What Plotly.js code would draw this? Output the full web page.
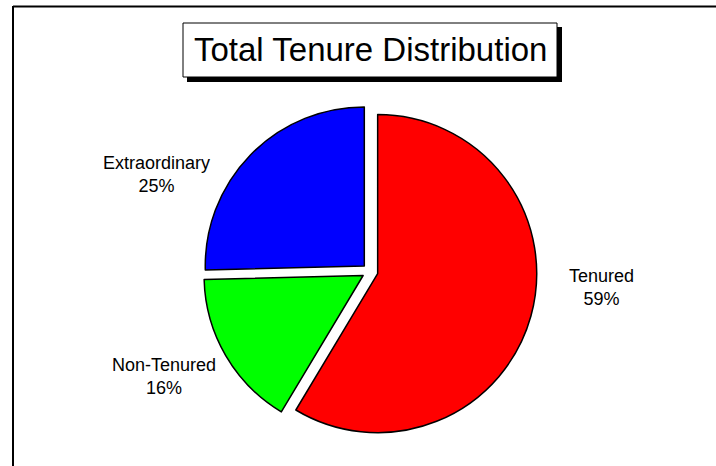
<!DOCTYPE html>
<html>
<head>
<meta charset="utf-8">
<script src="https://cdn.plot.ly/plotly-3.0.1.min.js"></script>
<style>html,body{margin:0;padding:0;background:#fff;}#chart{width:716px;height:466px;}</style>
</head>
<body>
<div id="chart"></div>
<script>
// ---- data ----
var categories = ["Tenured", "Non-Tenured", "Extraordinary"];
var values = [58.6, 16.0, 25.4];
var colors = ["#FF0000", "#00FF00", "#0000FF"];
var chartTitle = "Total Tenure Distribution";

// ---- layout helpers (pixel -> paper) ----
var W = 716, H = 466;
function px(x) { return x / W; }
function py(y) { return 1 - y / H; }

var total = values.reduce(function (a, b) { return a + b; }, 0);
var labelAnchors = [[601, 287], [164, 376], [156, 174]]; // label block centres (px)

var annotations = categories.map(function (c, i) {
  return {
    xref: "paper", yref: "paper",
    x: px(labelAnchors[i][0]), y: py(labelAnchors[i][1]),
    xanchor: "center", yanchor: "middle",
    text: c + "<br>" + Math.round(values[i] / total * 100) + "%",
    showarrow: false,
    align: "center",
    font: {family: "Liberation Sans, Arial, sans-serif", size: 18, color: "#000"}
  };
});
annotations.push({
  xref: "paper", yref: "paper",
  x: px(370), y: py(50), xanchor: "center", yanchor: "middle",
  text: chartTitle, showarrow: false,
  font: {family: "Liberation Sans, Arial, sans-serif", size: 33, color: "#000"}
});

var shapes = [
  // frame (top and left)
  {type: "line", xref: "paper", yref: "paper", x0: px(13), x1: 1, y0: py(6.5), y1: py(6.5), line: {color: "#000", width: 2}},
  {type: "line", xref: "paper", yref: "paper", x0: px(13), x1: px(13), y0: py(6), y1: 0, line: {color: "#000", width: 2}},
  // title box shadow and box
  {type: "rect", xref: "paper", yref: "paper", x0: px(187), x1: px(562), y0: py(27), y1: py(82), fillcolor: "#000", line: {width: 0}},
  {type: "rect", xref: "paper", yref: "paper", x0: px(183), x1: px(557), y0: py(23), y1: py(77), fillcolor: "#fff", line: {color: "#000", width: 1}}
];

var trace = {
  type: "pie",
  labels: categories,
  values: values,
  sort: false,
  direction: "clockwise",
  rotation: 0,
  pull: [0.05, 0.05, 0.05],
  textinfo: "none",
  hoverinfo: "label+percent",
  marker: {colors: colors, line: {color: "#000", width: 1.5}},
  domain: {x: [px(170), px(570)], y: [py(438.5), py(104.5)]},
  showlegend: false
};

var layout = {
  width: W, height: H,
  margin: {l: 0, r: 0, t: 0, b: 0},
  paper_bgcolor: "#fff",
  plot_bgcolor: "#fff",
  showlegend: false,
  shapes: shapes,
  annotations: annotations
};

Plotly.newPlot("chart", [trace], layout, {displayModeBar: false, staticPlot: true});
</script>
</body>
</html>
